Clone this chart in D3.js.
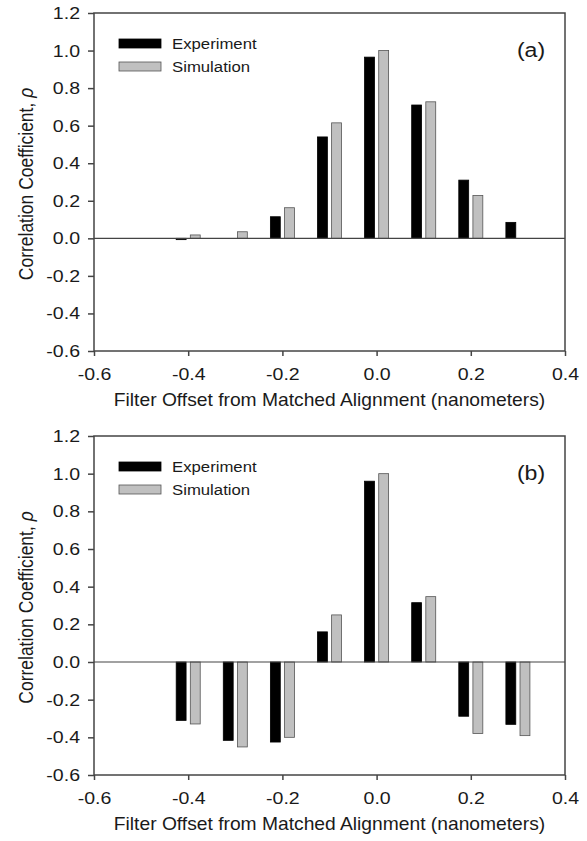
<!DOCTYPE html>
<html>
  <head>
    <meta charset="utf-8">
    <title></title>
    <script src="https://cdn.jsdelivr.net/npm/d3@7"></script>
    <style media="screen">
    body {margin:0; background:#fff;}
    text {font-family: Arial, "Liberation Sans", sans-serif; fill:#1a1a1a;}
    </style>
    <script>
    // data
    var offsets=[-0.4, -0.3, -0.2, -0.1, 0.0, 0.1, 0.2, 0.3];
    var expA=[-0.007, null, 0.115, 0.54, 0.965, 0.71, 0.31, 0.085];
    var simA=[0.018, 0.035, 0.163, 0.615, 1.0, 0.727, 0.228, null];
    var expB=[-0.31, -0.416, -0.425, 0.16, 0.96, 0.315, -0.288, -0.331];
    var simB=[-0.329, -0.451, -0.4, 0.25, 1.0, 0.347, -0.38, -0.391];
    var xTicks=[-0.6, -0.4, -0.2, 0.0, 0.2, 0.4];
    var yTicks=[-0.6, -0.4, -0.2, 0.0, 0.2, 0.4, 0.6, 0.8, 1.0, 1.2];
    var seriesNames=['Experiment', 'Simulation'];
    var panelLabels=['(a)', '(b)'];

    window.onload=function (){
      var svg=d3.select('#svg1');
      var left=94, right=565;
      var fmt=function (d){return d.toFixed(1);};

      function panel(top, bottom, exp, sim, label){
        var x=d3.scaleLinear().domain([-0.6, 0.4]).range([left, right]);
        var y=d3.scaleLinear().domain([-0.6, 1.2]).range([bottom, top]);
        var g=svg.append('g');
        var bw=x(0.021)-x(0);

        //bars
        var series=[{vals:exp, dx:-0.015, fill:'#000', stroke:'#000'},
                    {vals:sim, dx:0.015, fill:'#c0c0c0', stroke:'#555'}];
        series.forEach(function (s){
          g.selectAll(null)
            .data(offsets.map(function (o, i){return {o:o, v:s.vals[i]};}).filter(function (d){return d.v!=null;}))
            .enter().append('rect')
            .attr('x', function (d){return x(d.o+s.dx)-bw/2;})
            .attr('width', bw)
            .attr('y', function (d){return y(Math.max(0, d.v));})
            .attr('height', function (d){return Math.abs(y(d.v)-y(0));})
            .attr('fill', s.fill)
            .attr('stroke', s.stroke)
            .attr('stroke-width', 0.8);
        });

        //zero line
        g.append('line')
          .attr('x1', left).attr('x2', right)
          .attr('y1', y(0)).attr('y2', y(0))
          .attr('stroke', '#444').attr('stroke-width', 1.2);

        //axes
        var ax=g.append('g')
          .attr('transform', 'translate(0,'+bottom+')')
          .call(d3.axisBottom(x).tickValues(xTicks).tickFormat(fmt).tickSize(5).tickSizeOuter(0).tickPadding(12));
        var ay=g.append('g')
          .attr('transform', 'translate('+left+',0)')
          .call(d3.axisLeft(y).tickValues(yTicks).tickFormat(fmt).tickSize(6).tickSizeOuter(0).tickPadding(8));
        [ax, ay].forEach(function (a){
          a.select('.domain').remove();
          a.selectAll('line').attr('stroke', '#444').attr('stroke-width', 1.5);
          a.selectAll('text').attr('font-size', 17).attr('font-family', null).attr('fill', '#1a1a1a');
        });
        //wider glyphs like the original
        ax.selectAll('text').each(function (){
          var t=d3.select(this);
          t.attr('transform', 'translate(0,'+t.attr('y')+') scale(1.15,1)').attr('y', 0);
        });
        ay.selectAll('text').each(function (){
          var t=d3.select(this);
          t.attr('transform', 'translate('+t.attr('x')+',0) scale(1.15,1)').attr('x', 0);
        });

        //frame
        g.append('rect')
          .attr('x', left).attr('y', top)
          .attr('width', right-left).attr('height', bottom-top)
          .attr('fill', 'none').attr('stroke', '#444').attr('stroke-width', 1.5);

        //legend
        var lg=g.append('g').attr('transform', 'translate(119,'+(top+26)+')');
        seriesNames.forEach(function (n, i){
          lg.append('rect')
            .attr('x', 0).attr('y', i*23)
            .attr('width', 42).attr('height', 9)
            .attr('fill', series[i].fill).attr('stroke', series[i].stroke).attr('stroke-width', 0.8);
          lg.append('text')
            .attr('transform', 'translate(53,'+(i*23+10)+') scale(1.08,1)')
            .attr('font-size', 15.5)
            .text(n);
        });

        //panel label
        g.append('text')
          .attr('transform', 'translate(531,'+(top+44)+') scale(1.1,1)')
          .attr('text-anchor', 'middle')
          .attr('font-size', 21)
          .text(label);

        //axis titles
        g.append('text')
          .attr('transform', 'translate('+((left+right)/2)+','+(bottom+55)+') scale(1.1,1)')
          .attr('text-anchor', 'middle')
          .attr('font-size', 17.5)
          .text('Filter Offset from Matched Alignment (nanometers)');
        var yt=g.append('text')
          .attr('transform', 'translate(33,'+((top+bottom)/2+2)+') scale(1.12,1) rotate(-90)')
          .attr('text-anchor', 'middle')
          .attr('font-size', 17.5);
        yt.append('tspan').text('Correlation Coefficient, ');
        yt.append('tspan').attr('font-style', 'italic').text('\u03c1');
      }

      panel(13, 351, expA, simA, panelLabels[0]);
      panel(436, 775, expB, simB, panelLabels[1]);
    };
    </script>
  </head>
  <body>
    <svg id="svg1" width="587" height="841"></svg>
  </body>
</html>
